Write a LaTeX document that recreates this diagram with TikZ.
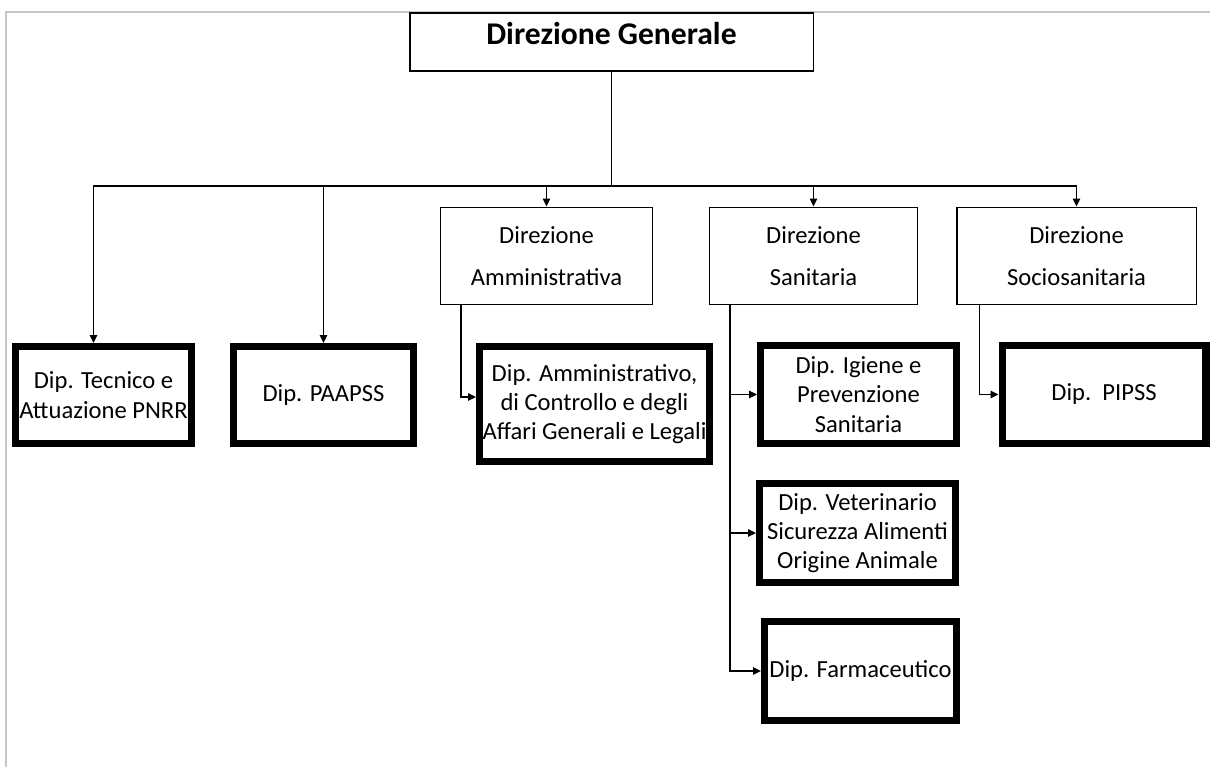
\documentclass[tikz,border=0pt]{standalone}
\usepackage{fontspec}
\setmainfont{Carlito}
\usetikzlibrary{arrows.meta, calc}

\begin{document}
\begin{tikzpicture}[x=0.02cm, y=-0.02cm, >={Triangle[length=1.6mm, width=1.5mm]},
  every node/.style={font=\fontsize{14}{16.7}\selectfont, align=center},
  dirbox/.style={draw, line width=1.1pt, inner sep=2pt, font=\fontsize{14}{24}\selectfont},
  dipbox/.style={draw, line width=4pt, inner sep=1pt, inner xsep=0pt},
  link/.style={line width=0.8pt}]
  \useasboundingbox (0,0) rectangle (1210,767);
  \draw[gray!45, line width=1pt] (6,767) -- (6,12) -- (1210,12);
  \node[dirbox, minimum width=8.08cm, minimum height=1.16cm, text depth=0.33cm, font=\bfseries\fontsize{18}{22}\selectfont] (generale) at (611.5,42) {Direzione Generale};
  \node[dirbox, minimum width=4.24cm, minimum height=1.94cm] (amm) at (546.5,256) {Direzione\\Amministrativa};
  \node[dirbox, minimum width=4.16cm, minimum height=1.94cm] (san) at (813.5,256) {Direzione\\Sanitaria};
  \node[dirbox, minimum width=4.80cm, minimum height=1.94cm] (socio) at (1076.5,256) {Direzione\\Sociosanitaria};
  \node[dipbox, minimum width=3.52cm, minimum height=1.94cm] (tecnico) at (103.5,395) {Dip. Tecnico e\\Attuazione PNRR};
  \node[dipbox, minimum width=3.60cm, minimum height=1.94cm] (paapss) at (323.5,395) {Dip. PAAPSS};
  \node[dipbox, minimum width=4.60cm, minimum height=2.30cm] (ammdip) at (594.5,404) {Dip. Amministrativo,\\di Controllo e degli\\Affari Generali e Legali};
  \node[dipbox, minimum width=3.92cm, minimum height=1.96cm] (igiene) at (858.5,394.5) {Dip. Igiene e\\Prevenzione\\Sanitaria};
  \node[dipbox, minimum width=4.08cm, minimum height=1.96cm] (pipss) at (1104,394.5) {Dip.\ \ PIPSS};
  \node[dipbox, minimum width=3.92cm, minimum height=1.98cm] (veter) at (857.5,533) {Dip. Veterinario\\Sicurezza Alimenti\\Origine Animale};
  \node[dipbox, minimum width=3.84cm, minimum height=1.98cm] (farma) at (860.5,671) {Dip. Farmaceutico};
  % links from the top
  \coordinate (bus) at (611.5,186);
  \draw[link] (generale) -- (bus);
  \draw[link, ->] (bus) -| (amm);
  \draw[link, ->] (bus) -| (san);
  \draw[link, ->] (bus) -| (socio);
  \draw[link, ->] (bus) -| (paapss);
  \draw[link, ->] (bus) -| ([xshift=-0.2cm]tecnico.north);
  % links to the departments
  \draw[link, ->] ([xshift=0.43cm]amm.south west) |- ([yshift=0.14cm]ammdip.west);
  \coordinate (santrunk) at ([xshift=0.43cm]san.south west);
  \draw[link, ->] (santrunk) |- (farma.west);
  \draw[link, ->] (santrunk |- igiene.west) -- (igiene.west);
  \draw[link, ->] (santrunk |- veter.west) -- (veter.west);
  \draw[link, ->] ([xshift=0.48cm]socio.south west) |- (pipss.west);
\end{tikzpicture}
\end{document}
